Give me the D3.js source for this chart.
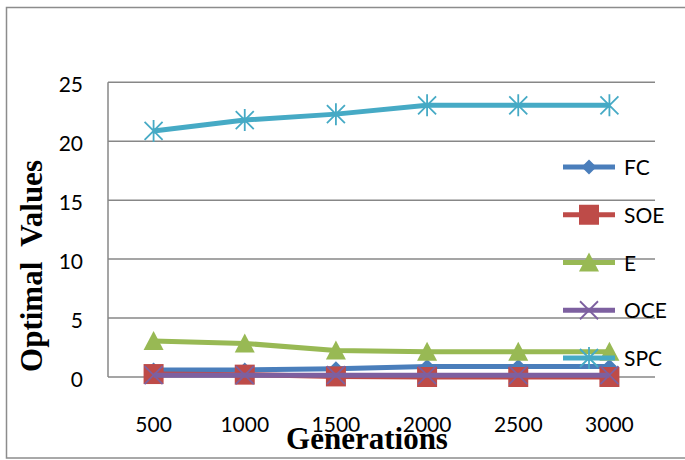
<!DOCTYPE html>
<html><head><meta charset="utf-8">
<script src="https://cdn.jsdelivr.net/npm/d3@7/dist/d3.min.js"></script>
<style>body{margin:0;background:#fff}svg{display:block}</style>
</head><body><svg id="c" width="685" height="460"></svg>
<script>
const categories = ["500","1000","1500","2000","2500","3000"];
const FC  = [0.6, 0.6, 0.7, 0.9, 0.9, 0.9];
const SOE = [0.25, 0.2, 0.05, 0, 0, 0];
const E   = [3.05, 2.85, 2.25, 2.15, 2.15, 2.15];
const OCE = [0.15, 0.15, 0.15, 0.15, 0.15, 0.15];
const SPC = [20.87, 21.8, 22.3, 23.05, 23.05, 23.05];
const yTicks = [0,5,10,15,20,25];
const seriesNames = ["FC","SOE","E","OCE","SPC"];
const seriesColors = ["#4a7ebb","#be4b48","#98b954","#7d60a0","#46aac5"];
const seriesMarkers = ["diamond","square","triangle","x","star"];
const seriesValues = [FC, SOE, E, OCE, SPC];

const svg = d3.select("#c");
const L=108, R=655, T=82.3, B=377;
const x = d3.scaleBand().domain(categories).range([L,R]);
const y = d3.scaleLinear().domain([0,25]).range([B,T]);
const cx = d => x(d)+x.bandwidth()/2;
const font = "Lato, 'Open Sans', sans-serif";
const serif = "'Liberation Serif','Times New Roman',serif";

// outer border
svg.append("rect").attr("x",6.5).attr("y",7.5).attr("width",690).attr("height",450.5)
  .attr("fill","none").attr("stroke","#8c8c8c").attr("stroke-width",1.5);

// gridlines
svg.append("g").selectAll("line").data(yTicks).join("line")
  .attr("x1",L).attr("x2",R).attr("y1",d=>y(d)).attr("y2",d=>y(d))
  .attr("stroke","#878787").attr("stroke-width",1.5);
svg.append("line").attr("x1",L).attr("x2",L).attr("y1",T).attr("y2",B)
  .attr("stroke","#878787").attr("stroke-width",1.5);

// y axis labels
const yAxis = d3.axisLeft(y).tickValues(yTicks).tickSize(0).tickPadding(25);
const gy = svg.append("g").attr("transform",`translate(${L},0)`).call(yAxis);
gy.select(".domain").remove();
gy.selectAll("text").attr("font-family",font).attr("font-size",21).attr("dy","0.45em").attr("fill","#000");

// x axis labels
const xAxis = d3.axisBottom(x).tickSize(0).tickPadding(40);
const gx = svg.append("g").attr("transform",`translate(0,${B})`).call(xAxis);
gx.select(".domain").remove();
gx.selectAll("text").attr("font-family",font).attr("font-size",21).attr("fill","#000");

// axis titles
svg.append("text").attr("transform","translate(42,266) rotate(-90)").attr("text-anchor","middle")
  .attr("font-family",serif).attr("font-weight","bold")
  .attr("font-size",31).style("white-space","pre").text("Optimal  Values");
svg.append("text").attr("x",367).attr("y",449).attr("text-anchor","middle")
  .attr("font-family",serif).attr("font-weight","bold")
  .attr("font-size",31).text("Generations");

function marker(g, type, color, px, py){
  if(type==="diamond"){
    g.append("path").attr("d",`M${px},${py-7.5}L${px+7.5},${py}L${px},${py+7.5}L${px-7.5},${py}Z`).attr("fill",color);
  } else if(type==="square"){
    g.append("rect").attr("x",px-10).attr("y",py-10).attr("width",20).attr("height",20).attr("fill",color);
  } else if(type==="triangle"){
    g.append("path").attr("d",`M${px},${py-10}L${px+10},${py+9}L${px-10},${py+9}Z`).attr("fill",color);
  } else if(type==="x"){
    g.append("path").attr("d",`M${px-9},${py-9}L${px+9},${py+9}M${px+9},${py-9}L${px-9},${py+9}`)
      .attr("stroke",color).attr("stroke-width",1.8).attr("fill","none");
  } else if(type==="star"){
    g.append("path").attr("d",`M${px-9},${py-9}L${px+9},${py+9}M${px+9},${py-9}L${px-9},${py+9}M${px},${py-11}L${px},${py+11}`)
      .attr("stroke",color).attr("stroke-width",1.8).attr("fill","none");
  }
}

const line = d3.line().x((d,i)=>cx(categories[i])).y(d=>y(d));
seriesValues.forEach((vals,si)=>{
  const g = svg.append("g");
  g.append("path").datum(vals).attr("d",line).attr("fill","none")
    .attr("stroke",seriesColors[si]).attr("stroke-width",5).attr("stroke-linejoin","round");
  vals.forEach((v,i)=>marker(g, seriesMarkers[si], seriesColors[si], cx(categories[i]), y(v)));
});

// legend
const legY = d3.scalePoint().domain(seriesNames).range([167,358]);
seriesNames.forEach((n,si)=>{
  const g = svg.append("g");
  const ly = legY(n);
  g.append("line").attr("x1",563).attr("x2",615).attr("y1",ly).attr("y2",ly)
    .attr("stroke",seriesColors[si]).attr("stroke-width",5);
  marker(g, seriesMarkers[si], seriesColors[si], 589, ly);
  g.append("text").attr("x",624).attr("y",ly+8).attr("font-family",font).attr("font-size",21)
    .attr("fill","#000").text(n);
});
</script></body></html>
